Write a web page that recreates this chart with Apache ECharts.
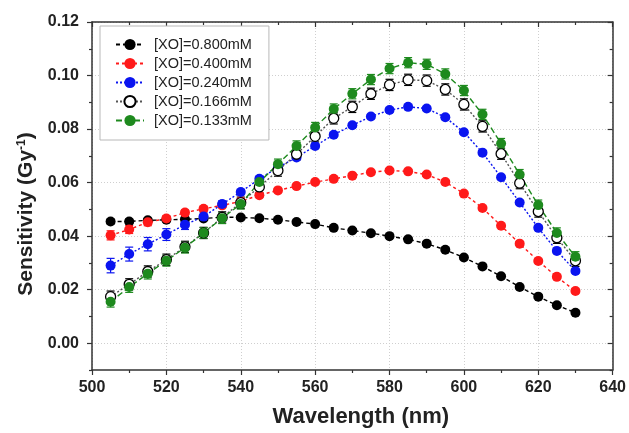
<!DOCTYPE html>
<html>
<head>
<meta charset="utf-8">
<script src="https://cdn.jsdelivr.net/npm/echarts@6/dist/echarts.min.js"></script>
<style>
  html, body { margin: 0; padding: 0; background: #fff; }
  #chart { width: 629px; height: 433px; }
</style>
</head>
<body>
<div id="chart"></div>
<script>
// wavelengths (nm)
const wavelengths = [505, 510, 515, 520, 525, 530, 535, 540, 545, 550, 555, 560, 565,
  570, 575, 580, 585, 590, 595, 600, 605, 610, 615, 620, 625, 630]

// sensitivity (Gy^-1) per [XO]
const xo800 = [0.0455, 0.0455, 0.0459, 0.0461, 0.0463, 0.0466, 0.0471, 0.0470, 0.0467, 0.0461, 0.0453, 0.0445, 0.0431,
  0.0421, 0.0411, 0.0400, 0.0388, 0.0372, 0.0349, 0.0320, 0.0287, 0.0250, 0.0210, 0.0174, 0.0142, 0.0114]
const xo400 = [0.0403, 0.0425, 0.0452, 0.0466, 0.0488, 0.0502, 0.0515, 0.0530, 0.0553, 0.0571, 0.0587, 0.0602, 0.0614,
  0.0626, 0.0639, 0.0645, 0.0642, 0.0630, 0.0602, 0.0559, 0.0505, 0.0439, 0.0372, 0.0307, 0.0248, 0.0195]
const xo240 = [0.0290, 0.0333, 0.0370, 0.0406, 0.0443, 0.0473, 0.0520, 0.0565, 0.0614, 0.0657, 0.0694, 0.0737, 0.0779,
  0.0814, 0.0847, 0.0871, 0.0883, 0.0877, 0.0844, 0.0788, 0.0712, 0.0620, 0.0526, 0.0431, 0.0345, 0.0270]
const xo166 = [0.0174, 0.0220, 0.0268, 0.0312, 0.0360, 0.0412, 0.0470, 0.0525, 0.0584, 0.0645, 0.0706, 0.0773, 0.0840,
  0.0883, 0.0932, 0.0965, 0.0984, 0.0981, 0.0948, 0.0892, 0.0810, 0.0708, 0.0598, 0.0492, 0.0394, 0.0308]
const xo133 = [0.0155, 0.0210, 0.0260, 0.0308, 0.0357, 0.0412, 0.0467, 0.0520, 0.0602, 0.0669, 0.0737, 0.0806, 0.0875,
  0.0932, 0.0985, 0.1026, 0.1048, 0.1042, 0.1006, 0.0944, 0.0855, 0.0746, 0.0630, 0.0516, 0.0412, 0.0323]

// error bars (+/-)
const err800 = [0.0009, 0.0009, 0.0008, 0.0008, 0.0007, 0.0007, 0.0007, 0.0006, 0.0006, 0.0006, 0.0006, 0.0006, 0.0006,
  0.0006, 0.0006, 0.0006, 0.0006, 0.0006, 0.0006, 0.0006, 0.0006, 0.0006, 0.0006, 0.0006, 0.0006, 0.0006]
const err400 = [0.0017, 0.0015, 0.0013, 0.0011, 0.0010, 0.0009, 0.0008, 0.0008, 0.0007, 0.0007, 0.0007, 0.0007, 0.0007,
  0.0007, 0.0007, 0.0007, 0.0007, 0.0007, 0.0007, 0.0007, 0.0007, 0.0007, 0.0007, 0.0007, 0.0007, 0.0007]
const err240 = [0.0027, 0.0026, 0.0025, 0.0022, 0.0018, 0.0014, 0.0012, 0.0010, 0.0008, 0.0008, 0.0008, 0.0008, 0.0008,
  0.0008, 0.0008, 0.0008, 0.0008, 0.0008, 0.0008, 0.0008, 0.0008, 0.0008, 0.0008, 0.0008, 0.0008, 0.0008]
const err166 = [0.0021, 0.0021, 0.0021, 0.0021, 0.0021, 0.0021, 0.0021, 0.0021, 0.0021, 0.0021, 0.0021, 0.0021, 0.0021,
  0.0021, 0.0021, 0.0021, 0.0021, 0.0021, 0.0021, 0.0021, 0.0021, 0.0021, 0.0021, 0.0021, 0.0021, 0.0021]
const err133 = [0.0020, 0.0020, 0.0020, 0.0020, 0.0020, 0.0020, 0.0020, 0.0019, 0.0019, 0.0019, 0.0019, 0.0019, 0.0019,
  0.0019, 0.0019, 0.0019, 0.0019, 0.0019, 0.0019, 0.0019, 0.0019, 0.0019, 0.0019, 0.0019, 0.0019, 0.0019]

const names = ['[XO]=0.800mM', '[XO]=0.400mM', '[XO]=0.240mM', '[XO]=0.166mM', '[XO]=0.133mM']
const yMajor = [0, 0.02, 0.04, 0.06, 0.08, 0.10, 0.12]
const yMinor = [-0.01, 0.01, 0.03, 0.05, 0.07, 0.09, 0.11]

const chart = echarts.init(document.getElementById('chart'))
const FONT = 'Liberation Sans, Arial, sans-serif'
const AXIS_COLOR = '#333'

function pairs(ys) {
  return wavelengths.map((w, i) => [w, ys[i]])
}
function triples(ys, es) {
  return wavelengths.map((w, i) => [w, ys[i], es[i]])
}

function renderErr(params, api) {
  const x = api.value(0)
  const y = api.value(1)
  const e = api.value(2)
  const top = api.coord([x, y + e])
  const bot = api.coord([x, y - e])
  const color = api.visual('color')
  const w = 4
  const st = { stroke: color, lineWidth: 1.2 }
  return {
    type: 'group',
    children: [
      { type: 'line', shape: { x1: top[0], y1: top[1], x2: bot[0], y2: bot[1] }, style: st },
      { type: 'line', shape: { x1: top[0] - w, y1: top[1], x2: top[0] + w, y2: top[1] }, style: st },
      { type: 'line', shape: { x1: bot[0] - w, y1: bot[1], x2: bot[0] + w, y2: bot[1] }, style: st }
    ]
  }
}

function lineSeries(name, ys, color, dash, fill, lineColor) {
  return {
    name: name,
    type: 'line',
    data: pairs(ys),
    symbol: 'circle',
    symbolSize: 10,
    z: 3,
    itemStyle: fill
      ? { color: fill, borderColor: color, borderWidth: 1.3 }
      : { color: color },
    lineStyle: { color: lineColor || color, width: 1.4, type: dash }
  }
}

function errSeries(ys, es, color) {
  return {
    type: 'custom',
    renderItem: renderErr,
    data: triples(ys, es),
    itemStyle: { color: color },
    z: 2,
    silent: true
  }
}

const series = [
  errSeries(xo800, err800, '#000'),
  errSeries(xo400, err400, '#ff1a1a'),
  errSeries(xo240, err240, '#0a14f0'),
  errSeries(xo166, err166, '#000'),
  errSeries(xo133, err133, '#1e8a1e'),
  lineSeries(names[0], xo800, '#000', [4, 3]),
  lineSeries(names[1], xo400, '#ff1a1a', [3, 3]),
  lineSeries(names[2], xo240, '#0a14f0', [2, 2]),
  lineSeries(names[3], xo166, '#000', [2, 2], '#fff', '#555'),
  lineSeries(names[4], xo133, '#1e8a1e', [6, 3])
]

const gridDotted = { show: true, lineStyle: { color: '#cfcfcf', type: [1, 2], width: 1 } }

chart.setOption({
  animation: false,
  backgroundColor: '#fff',
  grid: { left: 92, right: 16, top: 22, bottom: 56 },
  legend: {
    data: names,
    orient: 'vertical',
    left: 100,
    top: 26,
    padding: [11, 17, 12, 15],
    itemWidth: 28,
    itemHeight: 14,
    itemGap: 4,
    backgroundColor: '#fff',
    borderColor: '#b8b8b8',
    borderWidth: 1,
    textStyle: { fontFamily: FONT, fontSize: 14.5, color: '#222', lineHeight: 14, padding: [0, 0, 0, 5] }
  },
  xAxis: [
    {
      type: 'value',
      position: 'bottom',
      min: 500,
      max: 640,
      interval: 20,
      name: 'Wavelength (nm)',
      nameLocation: 'middle',
      nameGap: 36,
      nameTextStyle: { fontFamily: FONT, fontSize: 22, fontWeight: 'bold', color: '#222', padding: [0, 0, 0, 17] },
      axisLine: { show: true, onZero: false, lineStyle: { color: AXIS_COLOR, width: 1.5 } },
      axisTick: { show: true, inside: false, length: 5, lineStyle: { color: AXIS_COLOR, width: 1.2 } },
      minorTick: { show: true, splitNumber: 2, length: 3, lineStyle: { color: AXIS_COLOR, width: 1.2 } },
      axisLabel: { fontFamily: FONT, fontSize: 16, fontWeight: 'bold', color: '#222', margin: 10 },
      splitLine: gridDotted
    },
    {
      type: 'value',
      position: 'top',
      min: 500,
      max: 640,
      interval: 20,
      axisLine: { show: true, onZero: false, lineStyle: { color: AXIS_COLOR, width: 1.5 } },
      axisTick: { show: true, inside: true, length: 5, lineStyle: { color: AXIS_COLOR, width: 1.2 } },
      minorTick: { show: true, splitNumber: 2, length: 3, lineStyle: { color: AXIS_COLOR, width: 1.2 } },
      axisLabel: { show: false },
      splitLine: { show: false }
    }
  ],
  yAxis: [
    {
      type: 'value',
      position: 'left',
      min: -0.01,
      max: 0.12,
      name: 'Sensitivity (Gy{sup|-1})',
      nameLocation: 'middle',
      nameGap: 54,
      nameTextStyle: {
        fontFamily: FONT, fontSize: 21, fontWeight: 'bold', color: '#222', padding: [0, 36, 0, 0],
        rich: { sup: { fontFamily: FONT, fontSize: 12, fontWeight: 'bold', color: '#222', padding: [0, 0, 10, 0] } }
      },
      axisLine: { show: true, onZero: false, lineStyle: { color: AXIS_COLOR, width: 1.5 } },
      axisTick: { show: true, inside: false, length: 5, customValues: yMajor, lineStyle: { color: AXIS_COLOR, width: 1.2 } },
      axisLabel: {
        customValues: yMajor,
        fontFamily: FONT, fontSize: 16, fontWeight: 'bold', color: '#222', margin: 13,
        formatter: v => v.toFixed(2)
      },
      splitLine: gridDotted
    },
    {
      type: 'value',
      position: 'left',
      min: -0.01,
      max: 0.12,
      axisLine: { show: false },
      axisTick: { show: true, inside: false, length: 3, customValues: yMinor, lineStyle: { color: AXIS_COLOR, width: 1.2 } },
      axisLabel: { show: false },
      splitLine: { show: false }
    },
    {
      type: 'value',
      position: 'right',
      min: -0.01,
      max: 0.12,
      axisLine: { show: true, onZero: false, lineStyle: { color: AXIS_COLOR, width: 1.5 } },
      axisTick: { show: true, inside: true, length: 5, customValues: yMajor, lineStyle: { color: AXIS_COLOR, width: 1.2 } },
      axisLabel: { show: false },
      splitLine: { show: false }
    },
    {
      type: 'value',
      position: 'right',
      min: -0.01,
      max: 0.12,
      axisLine: { show: false },
      axisTick: { show: true, inside: true, length: 3, customValues: yMinor, lineStyle: { color: AXIS_COLOR, width: 1.2 } },
      axisLabel: { show: false },
      splitLine: { show: false }
    }
  ],
  series: series
})
</script>
</body>
</html>
